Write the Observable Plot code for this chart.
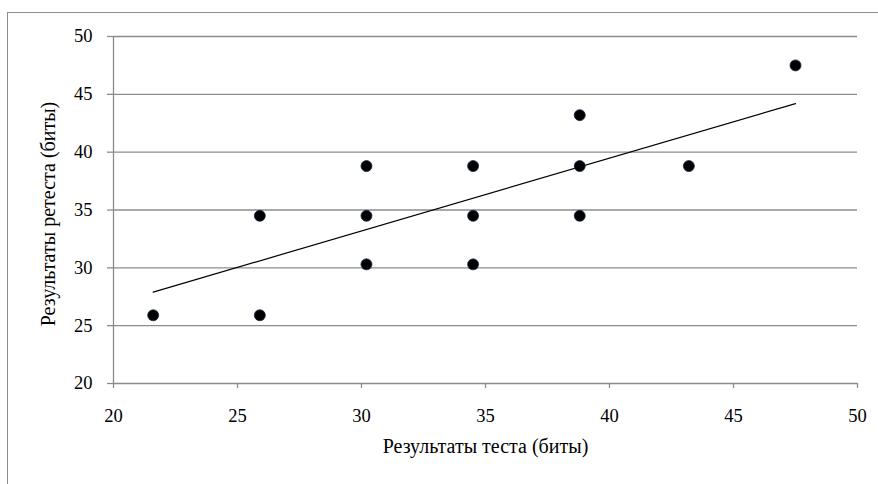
<!DOCTYPE html>
<html>
<head>
<meta charset="utf-8">
<script src="https://cdn.jsdelivr.net/npm/d3@7"></script>
<script src="https://cdn.jsdelivr.net/npm/@observablehq/plot@0.6"></script>
<style>
  html, body { margin: 0; padding: 0; background: #fff; overflow: hidden; width: 878px; height: 484px; }
  #frame { position: absolute; left: 7px; top: 12px; width: 900px; height: 500px; border: 1px solid #8c8c8c; box-sizing: border-box; }
  #chart { position: absolute; left: 0; top: 0; }
</style>
</head>
<body>
<div id="frame"></div>
<div id="chart"></div>
<script>
const testBits   = [21.6, 25.9, 25.9, 30.2, 30.2, 30.2, 34.5, 34.5, 34.5, 38.8, 38.8, 38.8, 43.2, 47.5];
const retestBits = [25.9, 25.9, 34.5, 30.3, 34.5, 38.8, 30.3, 34.5, 38.8, 34.5, 38.8, 43.2, 38.8, 47.5];
const trendX = [21.6, 47.5];
const trendY = [27.9, 44.2];
const tickValues = [20, 25, 30, 35, 40, 45, 50];
const xLabel = "Результаты теста (биты)";
const yLabel = "Результаты ретеста (биты)";

const points = testBits.map((x, i) => ({x, y: retestBits[i]}));
const trend = trendX.map((x, i) => ({x, y: trendY[i]}));

const font = "'Liberation Serif', 'Times New Roman', serif";
const fs = 18.5;
const lfs = 20;

const plot = Plot.plot({
  width: 878,
  height: 484,
  marginLeft: 113,
  marginRight: 21,
  marginTop: 36,
  marginBottom: 101,
  style: {background: "transparent", overflow: "visible", fontFamily: font},
  x: {domain: [20, 50]},
  y: {domain: [20, 50]},
  marks: [
    Plot.gridY(tickValues.slice(1), {stroke: "#8c8c8c", strokeOpacity: 1, strokeWidth: 1.3}),
    Plot.ruleX([20], {stroke: "#8c8c8c", strokeWidth: 1.3}),
    Plot.ruleY([20], {stroke: "#8c8c8c", strokeWidth: 1.3}),
    Plot.axisY({ticks: tickValues, tickSize: 6, tickPadding: 15, stroke: "#8c8c8c", strokeWidth: 1.3, label: null, fill: "#000", fontSize: fs, fontFamily: font}),
    Plot.axisX({ticks: tickValues, tickSize: 5, tickPadding: 20, stroke: "#8c8c8c", strokeWidth: 1.3, label: null, fill: "#000", fontSize: fs, fontFamily: font}),
    Plot.line(trend, {x: "x", y: "y", stroke: "#000", strokeWidth: 1.2}),
    Plot.dot(points, {x: "x", y: "y", r: 5.5, fill: "#000", stroke: "#1a2a4a", strokeWidth: 0.8}),
    Plot.text([xLabel], {frameAnchor: "bottom", textAnchor: "middle", dy: 69, text: d => d, fontSize: lfs, fill: "#000", fontFamily: font}),
    Plot.text([yLabel], {frameAnchor: "left", textAnchor: "middle", dx: -65, dy: 4, rotate: -90, text: d => d, fontSize: lfs, fill: "#000", fontFamily: font})
  ]
});
document.getElementById("chart").appendChild(plot);
</script>
</body>
</html>
